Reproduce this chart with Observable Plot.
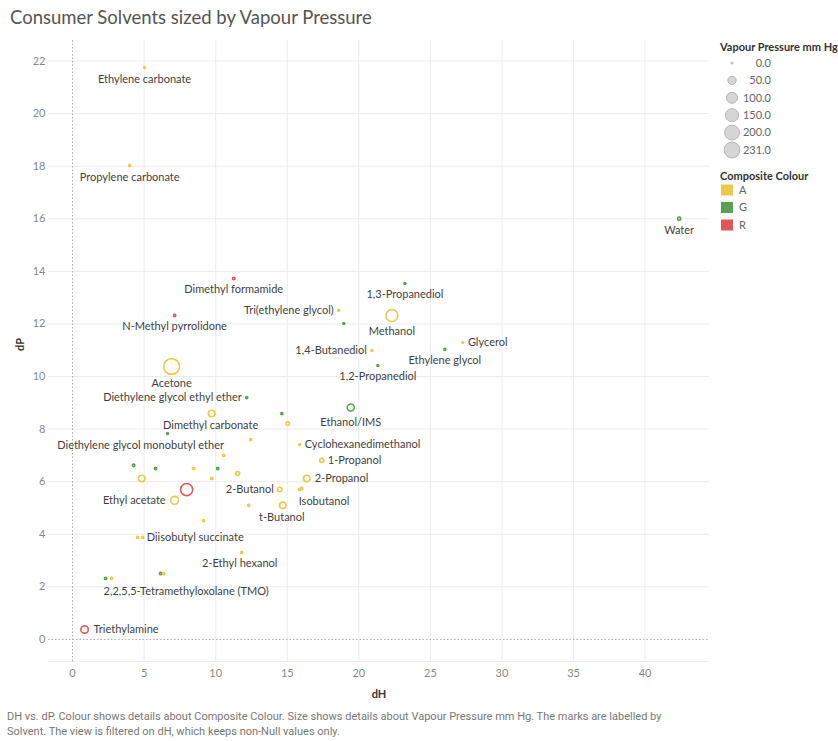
<!DOCTYPE html>
<html><head><meta charset="utf-8">
<script src="https://cdn.jsdelivr.net/npm/d3@7"></script>
<script src="https://cdn.jsdelivr.net/npm/@observablehq/plot@0.6"></script>
<style>
body{margin:0;background:#fff;width:838px;height:741px;overflow:hidden;position:relative;font-family:Lato,"Open Sans",sans-serif;}
#title{position:absolute;left:10px;top:6px;font-size:18.5px;color:#555;white-space:nowrap;}
#chart{position:absolute;left:0;top:35px;}
#legend{position:absolute;left:700px;top:30px;}
#caption{position:absolute;left:7px;top:709px;font-family:"Liberation Sans Narrow","Roboto",sans-serif;font-size:11px;color:#777;line-height:15px;white-space:nowrap;}
</style></head><body>
<div id="title">Consumer Solvents sized by Vapour Pressure</div>
<div id="chart"></div>
<div id="legend"></div>
<div id="caption">DH vs. dP. Colour shows details about Composite Colour. Size shows details about Vapour Pressure mm Hg. The marks are labelled by<br>Solvent. The view is filtered on dH, which keeps non-Null values only.</div>
<script>
// ---- data ----
const solvents = ["Ethylene carbonate","Propylene carbonate","Water","Dimethyl formamide","1,3-Propanediol","Tri(ethylene glycol)","","Methanol","N-Methyl pyrrolidone","1,4-Butanediol","Glycerol","Ethylene glycol","1,2-Propanediol","Acetone","Diethylene glycol ethyl ether","Dimethyl carbonate","","Ethanol/IMS","","Diethylene glycol monobutyl ether","","Cyclohexanedimethanol","1-Propanol","","","","","","","","","2-Propanol","","2-Butanol","Isobutanol","","Ethyl acetate","t-Butanol","","","","Diisobutyl succinate","2-Ethyl hexanol","2,2,5,5-Tetramethyloxolane (TMO)","","","","Triethylamine"];
const dHValues = [5.03,3.99,42.38,11.26,23.22,18.6,18.95,22.31,7.13,20.91,27.27,26.01,21.33,6.92,12.17,9.72,14.62,19.44,15.03,6.64,12.45,15.87,17.41,10.56,4.27,5.80,8.46,10.14,11.54,4.83,9.72,16.36,7.97,14.48,15.87,16.01,7.13,14.69,12.31,9.16,4.55,4.90,11.82,2.31,2.73,6.15,6.36,0.84];
const dPValues = [21.75,18.02,16.0,13.73,13.54,12.51,12.02,12.32,12.32,10.99,11.29,11.03,10.42,10.38,9.2,8.59,8.59,8.82,8.21,7.83,7.6,7.41,6.81,7.0,6.62,6.5,6.5,6.5,6.31,6.12,6.12,6.12,5.70,5.70,5.70,5.74,5.29,5.10,5.10,4.52,3.88,3.88,3.31,2.32,2.32,2.51,2.51,0.38];
const vapourPressure = [0.02,0.03,2.5,0.5,0.04,0.01,0.01,120,0.3,0.01,0.0,0.06,0.08,231,0.1,26,0.1,33,3.4,0.02,0.2,0.01,6.8,0.3,0.5,0.3,0.5,0.2,5.2,26,0.4,26,125,8.6,0.6,0.5,44,26,0.3,0.2,0.1,0.1,0.1,0.3,0.3,0.3,0.3,38];
const compositeColour = ["A","A","G","R","G","A","G","A","R","A","A","G","G","A","G","A","G","G","A","G","A","A","A","A","G","G","A","G","A","A","A","A","R","A","A","A","A","A","A","A","A","A","A","G","A","G","A","R"];
const colourCategories = ["A","G","R"];
const sizeLegendValues = [0, 50, 100, 150, 200, 231];
const xTicks = [0,5,10,15,20,25,30,35,40];
const yTicks = [0,2,4,6,8,10,12,14,16,18,20,22];

// ---- styles / label placement (not data) ----
const colourRange = ["#EDC948","#59A14F","#E15759"];
const rRange = [0.9, 7.9];
const labelPlacement = {
  "Ethylene carbonate":["middle",0,12],
  "Propylene carbonate":["middle",0,12],
  "Water":["middle",0,12],
  "Dimethyl formamide":["middle",0,11],
  "1,3-Propanediol":["middle",0,11],
  "Tri(ethylene glycol)":["end",-5,0],
  "Methanol":["middle",0,16],
  "N-Methyl pyrrolidone":["middle",0,11],
  "1,4-Butanediol":["end",-5,0],
  "Glycerol":["start",5,0],
  "Ethylene glycol":["middle",0,11],
  "1,2-Propanediol":["middle",0,11],
  "Acetone":["middle",0,17],
  "Diethylene glycol ethyl ether":["end",-5,0],
  "Dimethyl carbonate":["middle",-1,12],
  "Ethanol/IMS":["middle",0,15],
  "Diethylene glycol monobutyl ether":["middle",-27,12],
  "Cyclohexanedimethanol":["start",5,0],
  "1-Propanol":["start",6,0],
  "2-Propanol":["start",8,0],
  "2-Butanol":["end",-6,0],
  "Isobutanol":["start",-1,12],
  "Ethyl acetate":["end",-9,0],
  "t-Butanol":["middle",-1,12],
  "Diisobutyl succinate":["start",4,0],
  "2-Ethyl hexanol":["middle",-2,11],
  "2,2,5,5-Tetramethyloxolane (TMO)":["start",-2,13],
  "Triethylamine":["start",9,0]
};

const data = solvents.map((s,i)=>({solvent:s, dH:dHValues[i], dP:dPValues[i], vp:vapourPressure[i], colour:compositeColour[i]}));

const labelMarks = Object.entries(labelPlacement).map(([name,[anchor,dx,dy]]) =>
  Plot.text(data, {filter: d => d.solvent === name, x:"dH", y:"dP", text:"solvent", textAnchor:anchor, dx, dy, fill:"#3f3f3f", fontSize:11})
);

const chart = Plot.plot({
  width: 712, height: 676,
  marginLeft: 48, marginRight: 3, marginTop: 5, marginBottom: 50,
  style: {fontFamily: "Lato, 'Open Sans', sans-serif", fontSize: "11px", color: "#888", background: "transparent"},
  x: {domain: [-1.68, 44.5], label: null},
  y: {domain: [-0.84, 22.78], label: null},
  r: {type: "sqrt", domain: [0, 231], range: rRange},
  color: {domain: colourCategories, range: colourRange},
  marks: [
    Plot.gridX(xTicks.filter(t => t !== 0), {stroke: "#ececec", strokeOpacity: 1}),
    Plot.gridY(yTicks.filter(t => t !== 0), {stroke: "#ececec", strokeOpacity: 1}),
    Plot.ruleY([-0.84], {stroke: "#ececec"}),
    Plot.ruleX([0], {stroke: "#aaa", strokeDasharray: "1.5,2"}),
    Plot.ruleY([0], {stroke: "#aaa", strokeDasharray: "1.5,2"}),
    Plot.dot(data, {x: "dH", y: "dP", r: "vp", stroke: "colour", fill: "none", strokeWidth: 1.6}),
    ...labelMarks,
    Plot.axisX(xTicks, {tickSize: 0, tickPadding: 8, label: null, fill: "#888", fontSize: 11}),
    Plot.axisY(yTicks, {tickSize: 0, tickPadding: 3, label: null, fill: "#888", fontSize: 11}),
    Plot.text(["dH"], {frameAnchor: "bottom", dy: 36, fill: "#333", fontSize: 11, fontWeight: "bold"}),
    Plot.text(["dP"], {frameAnchor: "left", dx: -28, rotate: -90, fill: "#333", fontSize: 11, fontWeight: "bold"})
  ]
});
document.getElementById("chart").append(chart);

// ---- legend ----
const rScale = d3.scaleSqrt().domain([0,231]).range(rRange);
const lg = d3.select("#legend").append("svg").attr("width", 138).attr("height", 210)
  .style("font-family", "Lato, 'Open Sans', sans-serif");
lg.append("text").attr("x", 20).attr("y", 17).attr("dy", "0.35em").attr("font-size", 11).attr("font-weight", "bold").attr("fill", "#333").text("Vapour Pressure mm Hg");
sizeLegendValues.forEach((v,i) => {
  const y = 33 + i * 17.4;
  lg.append("circle").attr("cx", 32).attr("cy", y).attr("r", Math.max(rScale(v), 1)).attr("fill", "#d6d6d6").attr("stroke", "#b4b4b4").attr("stroke-width", 1);
  lg.append("text").attr("x", 71).attr("y", y).attr("dy", "0.35em").attr("text-anchor", "end").attr("font-size", 11).attr("fill", "#666").text(v.toFixed(1));
});
lg.append("text").attr("x", 20).attr("y", 146).attr("dy", "0.35em").attr("font-size", 11).attr("font-weight", "bold").attr("fill", "#333").text("Composite Colour");
colourCategories.forEach((c,i) => {
  const y = 160 + i * 17.5;
  lg.append("rect").attr("x", 21).attr("y", y - 5.5).attr("width", 12).attr("height", 11).attr("fill", colourRange[i]);
  lg.append("text").attr("x", 39).attr("y", y).attr("dy", "0.35em").attr("font-size", 11).attr("fill", "#666").text(c);
});
</script>
</body></html>
